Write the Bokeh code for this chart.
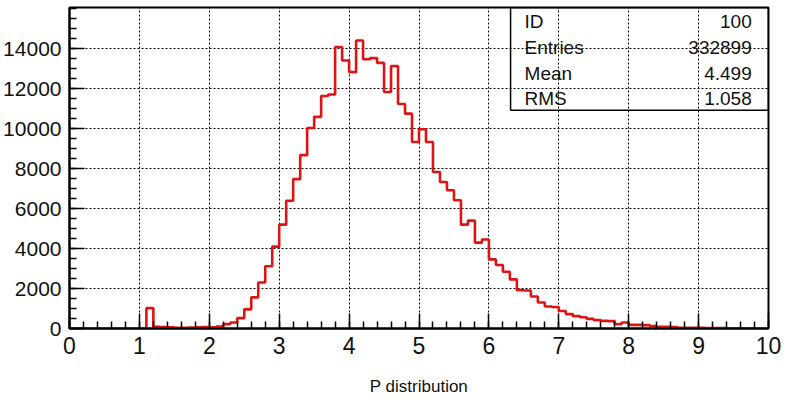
import numpy as np
from bokeh.plotting import figure
from bokeh.models import Range1d, FixedTicker, ColumnDataSource
from bokeh.core.properties import value
from bokeh.embed import file_html
from bokeh.resources import INLINE

# ---- data ----
bin_left = [round(0.1 * i, 1) for i in range(100)]
counts = [
    0, 0, 0, 0, 0, 0, 0, 0, 0, 0,
    0, 1020, 80, 70, 60, 40, 40, 50, 60, 70,
    60, 100, 220, 300, 520, 960, 1560, 2300, 3120, 4100,
    5200, 6400, 7480, 8680, 10040, 10600, 11640, 11720, 14100, 13420,
    12840, 14420, 13480, 13540, 13300, 11840, 13140, 11240, 10760, 9340,
    9980, 9340, 7840, 7340, 6920, 6420, 5200, 5400, 4300, 4460,
    3460, 3180, 2840, 2460, 1920, 1900, 1600, 1300, 1100, 1080,
    880, 720, 620, 560, 480, 420, 380, 370, 220, 300,
    180, 180, 170, 120, 80, 80, 70, 40, 40, 30,
    30, 20, 20, 20, 10, 10, 10, 10, 10, 10,
]
x_ticks = [0, 1, 2, 3, 4, 5, 6, 7, 8, 9, 10]
y_ticks = [0, 2000, 4000, 6000, 8000, 10000, 12000, 14000]
stat_names = ["ID", "Entries", "Mean", "RMS"]
stat_values = ["100", "332899", "4.499", "1.058"]
x_label = "P distribution"

FONT = "Liberation Sans"
YMAX = 16075

p = figure(width=795, height=400, output_backend="svg", toolbar_location=None,
           x_range=Range1d(0, 10), y_range=Range1d(0, YMAX),
           min_border_left=69, min_border_right=27, min_border_top=7,
           min_border_bottom=72)
p.background_fill_color = "white"
p.border_fill_color = "white"
p.outline_line_color = "black"
p.outline_line_width = 2

x_minor = [round(0.2 * i, 1) for i in range(51)]
y_minor = [500 * i for i in range(33)]
p.xaxis.ticker = FixedTicker(ticks=x_ticks, minor_ticks=x_minor)
p.yaxis.ticker = FixedTicker(ticks=y_ticks, minor_ticks=y_minor)

for ax in (p.xaxis, p.yaxis):
    ax.axis_line_color = "black"
    ax.axis_line_width = 2
    ax.major_tick_in = 15
    ax.major_tick_out = 0
    ax.minor_tick_in = 7
    ax.minor_tick_out = 0
    ax.major_tick_line_color = "black"
    ax.major_tick_line_width = 1.5
    ax.minor_tick_line_color = "black"
    ax.minor_tick_line_width = 1.5
    ax.major_label_text_font = FONT
    ax.major_label_text_color = "#111111"

p.xaxis.major_label_text_font_size = "23px"
p.yaxis.major_label_text_font_size = "21px"
p.xaxis.major_label_standoff = 8
p.yaxis.major_label_standoff = 8
p.xaxis.axis_label = x_label
p.xaxis.axis_label_text_font = FONT
p.xaxis.axis_label_text_font_size = "17px"
p.xaxis.axis_label_text_font_style = "normal"
p.xaxis.axis_label_text_color = "#111111"
p.xaxis.axis_label_standoff = 20

p.xgrid.ticker = FixedTicker(ticks=x_ticks)
p.ygrid.ticker = FixedTicker(ticks=y_ticks)
for g in (p.xgrid, p.ygrid):
    g.grid_line_color = "black"
    g.grid_line_alpha = 1.0
    g.grid_line_width = 1
    g.grid_line_dash = "2 2"

# stats box (transparent, grid shows through)
box_left, box_bottom = 6.31, 10925
p.quad(left=[box_left], right=[10], bottom=[box_bottom], top=[YMAX],
       fill_color=None, line_color="black", line_width=1.5)
row_y = [15375, 14075, 12775, 11525]
src = ColumnDataSource(dict(n=stat_names, v=stat_values, y=row_y,
                            xl=[6.51] * 4, xr=[9.76] * 4))
p.text(x="xl", y="y", text="n", source=src, text_font=value(FONT),
       text_font_size="19px", text_baseline="middle", text_align="left",
       text_color="#111111")
p.text(x="xr", y="y", text="v", source=src, text_font=value(FONT),
       text_font_size="19px", text_baseline="middle", text_align="right",
       text_color="#111111")

# histogram as step line
xs = bin_left + [10.0]
ys = counts + [counts[-1]]
p.step(x=xs, y=ys, mode="after", line_color="#dc1414", line_width=2.6)

open("out.html", "w").write(file_html(p, INLINE))
